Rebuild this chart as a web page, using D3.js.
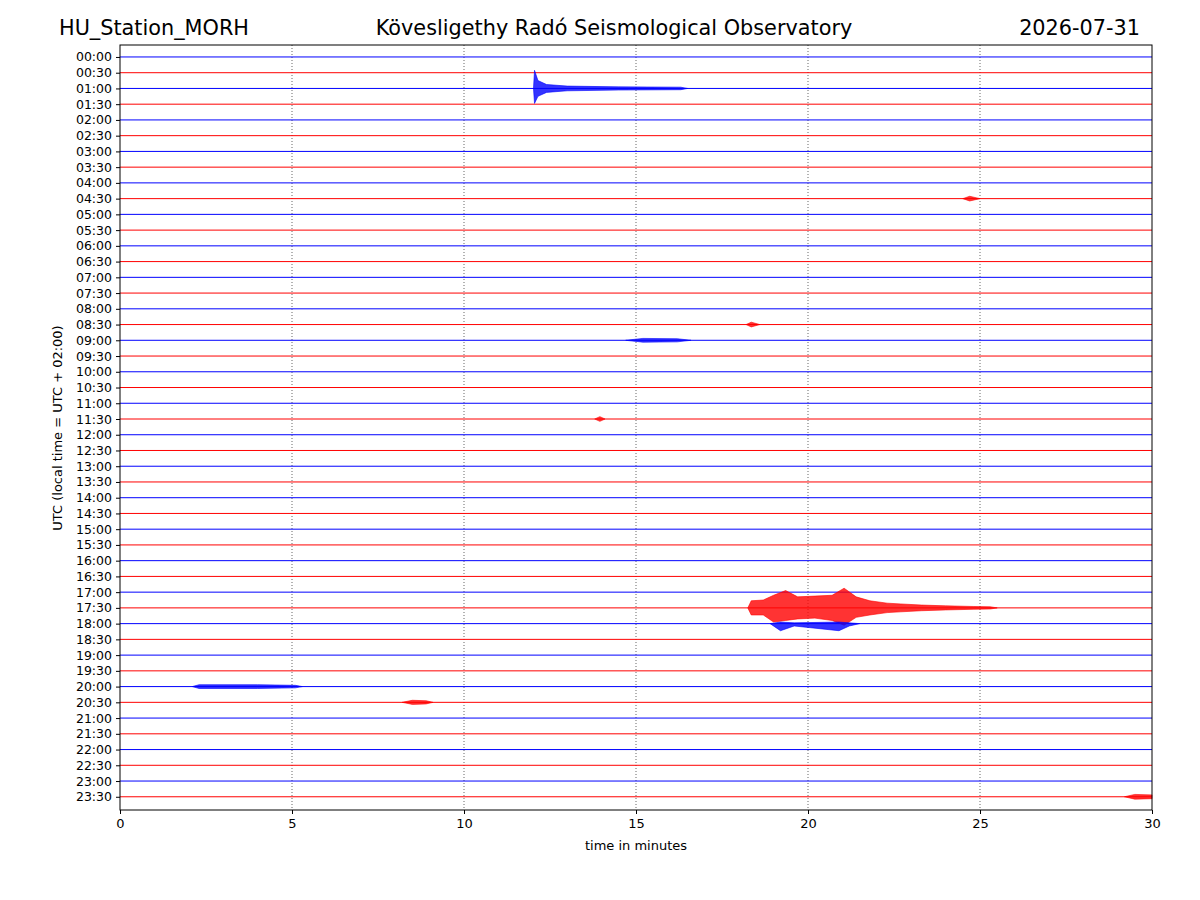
<!DOCTYPE html>
<html><head><meta charset="utf-8">
<script src="https://cdn.jsdelivr.net/npm/d3@7"></script>
<style>body{margin:0;background:#fff;font-family:"DejaVu Sans",sans-serif}</style>
</head><body><div id="chart"></div>
<script>
const width = 1200, height = 900;
const margin = {top: 45, right: 48, bottom: 90, left: 120};

const stationName = 'HU_Station_MORH';
const chartTitle = 'Kövesligethy Radó Seismological Observatory';
const chartDate = '2026-07-31';

// row labels, every 30 minutes
const rowLabels = d3.range(48).map(i => String(Math.floor(i / 2)).padStart(2, '0') + ':' + (i % 2 ? '30' : '00'));
const rowColors = rowLabels.map((d, i) => i % 2 ? 'red' : 'blue');
const xTicks = [0, 5, 10, 15, 20, 25, 30];

// event envelopes: row index, [minute, amp up, amp down] in row units
const events = [
  {row: 2, pts: [[12.02, 0, 0], [12.05, 1.15, 0.95], [12.15, 0.5, 0.5], [12.4, 0.25, 0.25], [13, 0.15, 0.15], [14.5, 0.1, 0.1], [16.3, 0.08, 0.08], [16.5, 0, 0]]},
  {row: 9, pts: [[24.5, 0, 0], [24.7, 0.15, 0.15], [25, 0, 0]]},
  {row: 17, pts: [[18.2, 0, 0], [18.35, 0.15, 0.15], [18.6, 0, 0]]},
  {row: 18, pts: [[14.7, 0, 0], [15.2, 0.12, 0.12], [16.2, 0.1, 0.1], [16.6, 0, 0]]},
  {row: 23, pts: [[13.8, 0, 0], [13.95, 0.15, 0.15], [14.1, 0, 0]]},
  {row: 35, pts: [[18.25, 0, 0], [18.35, 0.45, 0.45], [18.7, 0.5, 0.45], [19, 0.8, 0.9], [19.35, 1.1, 0.8], [19.7, 0.7, 0.7], [20.2, 0.75, 0.65], [20.7, 0.8, 0.8], [21.05, 1.25, 1.1], [21.4, 0.7, 0.6], [21.8, 0.45, 0.45], [22.3, 0.3, 0.3], [22.7, 0.25, 0.25], [23.3, 0.18, 0.18], [24, 0.13, 0.13], [24.8, 0.09, 0.09], [25.3, 0.07, 0.07], [25.5, 0, 0]]},
  {row: 36, pts: [[18.9, 0, 0], [19.2, 0.1, 0.45], [19.6, 0.05, 0.15], [20.9, 0.1, 0.45], [21.2, 0.05, 0.15], [21.5, 0, 0]]},
  {row: 40, pts: [[2.1, 0, 0], [2.3, 0.12, 0.12], [4, 0.12, 0.12], [5.1, 0.08, 0.08], [5.3, 0, 0]]},
  {row: 41, pts: [[8.2, 0, 0], [8.5, 0.13, 0.13], [8.9, 0.1, 0.1], [9.1, 0, 0]]},
  {row: 47, pts: [[29.2, 0, 0], [29.5, 0.15, 0.15], [30, 0.12, 0.12]]}
];

const xScale = d3.scaleLinear().domain([0, 30]).range([margin.left, width - margin.right]);
const yScale = d3.scaleLinear().domain([-0.76, 47.84]).range([margin.top, height - margin.bottom]);

const svg = d3.select('#chart').append('svg').attr('width', width).attr('height', height);

// grid
svg.append('g').selectAll('line').data(xTicks.slice(1, -1)).enter().append('line')
  .attr('x1', d => xScale(d)).attr('x2', d => xScale(d))
  .attr('y1', margin.top).attr('y2', height - margin.bottom)
  .attr('stroke', '#000').attr('stroke-width', 0.6).attr('stroke-dasharray', '1,2');

// traces
svg.append('g').selectAll('line').data(rowLabels).enter().append('line')
  .attr('x1', xScale(0)).attr('x2', xScale(30))
  .attr('y1', (d, i) => yScale(i)).attr('y2', (d, i) => yScale(i))
  .attr('stroke', (d, i) => rowColors[i]).attr('stroke-width', 1);

const area = d3.area().x(p => xScale(p[0]));
events.forEach(ev => {
  area.y0(p => yScale(ev.row + p[2])).y1(p => yScale(ev.row - p[1]));
  svg.append('path').attr('d', area(ev.pts))
    .attr('fill', rowColors[ev.row]).attr('fill-opacity', 0.8)
    .attr('stroke', rowColors[ev.row]).attr('stroke-width', 0.6);
});

// frame
svg.append('rect').attr('x', margin.left).attr('y', margin.top)
  .attr('width', width - margin.left - margin.right).attr('height', height - margin.top - margin.bottom)
  .attr('fill', 'none').attr('stroke', '#000');

svg.append('g').attr('transform', `translate(0,${height - margin.bottom})`)
  .call(d3.axisBottom(xScale).tickValues(xTicks).tickSizeOuter(0).tickSize(4).tickPadding(5))
  .call(g => g.select('.domain').remove())
  .selectAll('text').attr('font-size', 13).attr('font-family', 'DejaVu Sans').attr('fill', '#000');

svg.append('g').attr('transform', `translate(${margin.left},0)`)
  .call(d3.axisLeft(d3.scaleLinear().domain(yScale.domain()).range(yScale.range()))
    .tickValues(d3.range(48)).tickFormat(i => rowLabels[i]).tickSize(4).tickPadding(4))
  .call(g => g.select('.domain').remove())
  .selectAll('text').attr('font-size', 12.5).attr('font-family', 'DejaVu Sans').attr('fill', '#000');

svg.append('text').attr('x', 59).attr('y', 35).attr('font-size', 20.8).text(stationName);
svg.append('text').attr('x', 614).attr('y', 35).attr('font-size', 20.8).attr('text-anchor', 'middle').text(chartTitle);
svg.append('text').attr('x', 1140).attr('y', 35).attr('font-size', 20.8).attr('text-anchor', 'end').text(chartDate);

svg.append('text').attr('x', xScale(15)).attr('y', 850).attr('font-size', 13).attr('text-anchor', 'middle').text('time in minutes');
svg.append('text').attr('transform', 'translate(62,428) rotate(-90)').attr('font-size', 13)
  .attr('text-anchor', 'middle').text('UTC (local time = UTC + 02:00)');
</script></body></html>
